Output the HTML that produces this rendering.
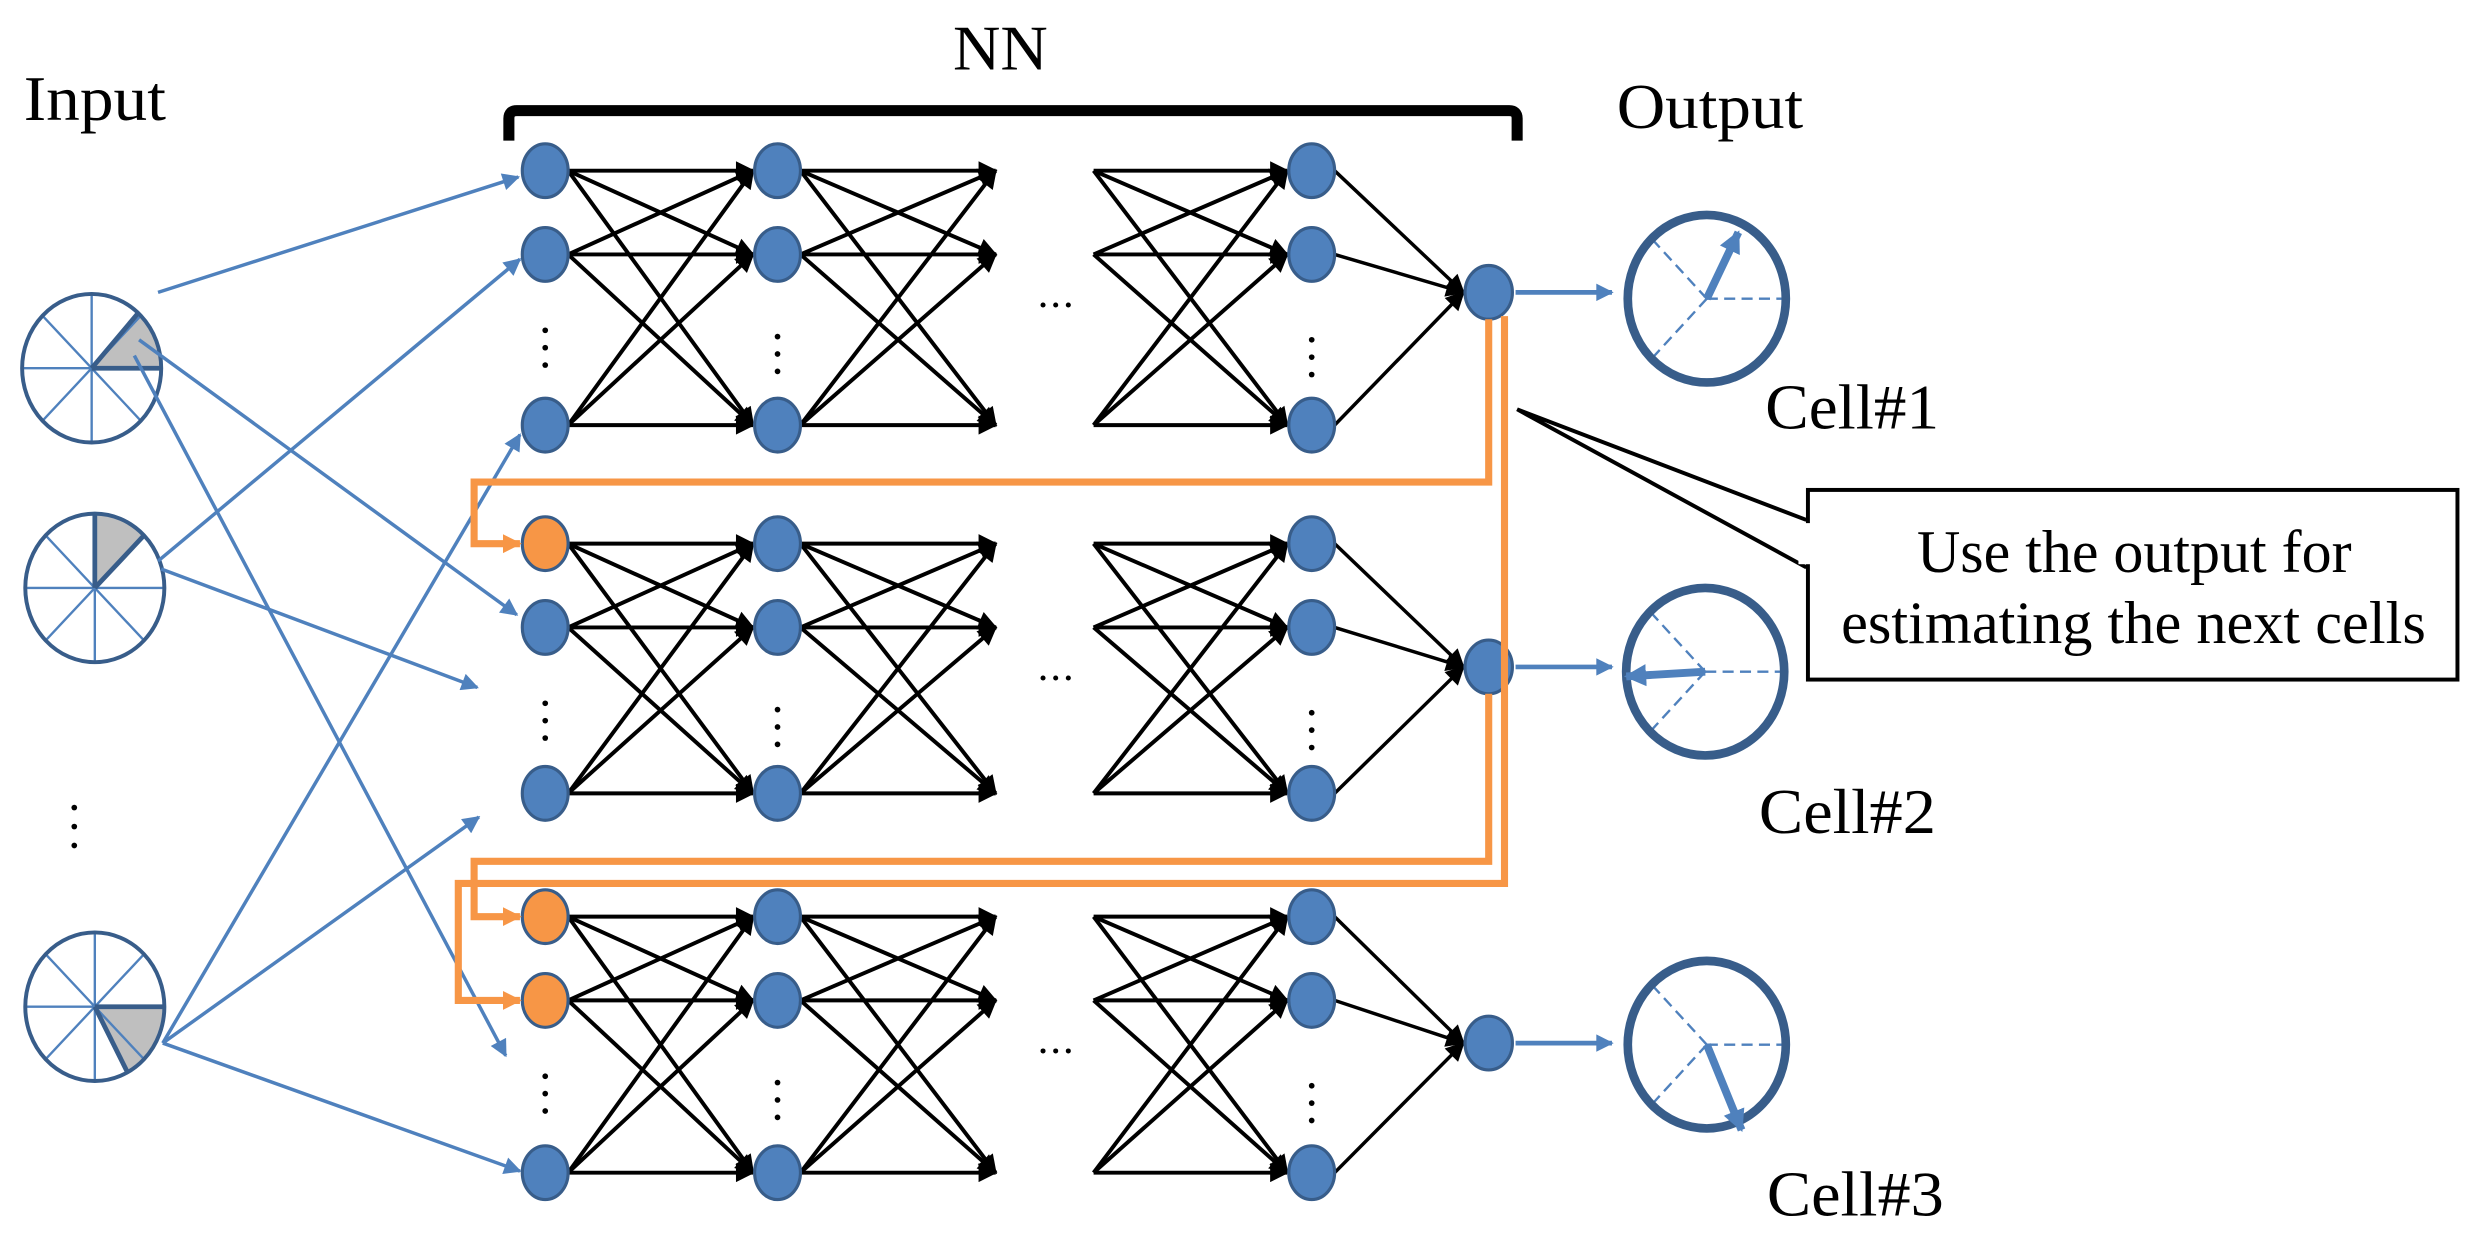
<!DOCTYPE html>
<html><head><meta charset="utf-8"><style>
html,body{margin:0;padding:0;background:#fff;}
svg{display:block;}
text{font-family:"Liberation Serif",serif;fill:#000;}
</style></head><body>
<svg id="s" width="2478" height="1249" viewBox="0 0 1568 790.3" preserveAspectRatio="none" xmlns="http://www.w3.org/2000/svg">
<defs>
<marker id="ab" viewBox="0 0 10 10" refX="9" refY="5" markerWidth="15" markerHeight="12" markerUnits="userSpaceOnUse" orient="auto"><path d="M0,0 L10,5 L0,10 z" fill="#000"/></marker>
<marker id="abl" viewBox="0 0 10 10" refX="9" refY="5" markerWidth="13" markerHeight="11" markerUnits="userSpaceOnUse" orient="auto"><path d="M0,0 L10,5 L0,10 z" fill="#4F81BD"/></marker>
<marker id="aor" viewBox="0 0 10 10" refX="9" refY="5" markerWidth="12" markerHeight="14" markerUnits="userSpaceOnUse" orient="auto"><path d="M0,0 L10,5 L0,10 z" fill="#F79646"/></marker>
<marker id="abig" viewBox="0 0 10 10" refX="9" refY="5" markerWidth="14" markerHeight="16" markerUnits="userSpaceOnUse" orient="auto"><path d="M0,0 L10,5 L0,10 z" fill="#4F81BD"/></marker>
</defs>
<rect width="1568" height="790.3" fill="#fff"/>
<text x="15" y="76" font-size="40" textLength="90" lengthAdjust="spacingAndGlyphs">Input</text>
<text x="603" y="44" font-size="40" textLength="60" lengthAdjust="spacingAndGlyphs">NN</text>
<text x="1023" y="81" font-size="40" textLength="118" lengthAdjust="spacingAndGlyphs">Output</text>
<path d="M322 89 V75 Q322 70 327 70 H955 Q960 70 960 75 V89" fill="none" stroke="#000" stroke-width="7"/>
<g id="net"></g>
<g id="front"></g>
<text x="1117" y="271" font-size="40" textLength="110" lengthAdjust="spacingAndGlyphs">Cell#1</text>
<text x="1113" y="527" font-size="40" textLength="112" lengthAdjust="spacingAndGlyphs">Cell#2</text>
<text x="1118" y="769" font-size="40" textLength="112" lengthAdjust="spacingAndGlyphs">Cell#3</text>
<path d="M1143 329 L960 259 L1143 359" fill="none" stroke="#000" stroke-width="2.5"/>
<rect x="1144" y="310" width="411" height="120" fill="#fff" stroke="#000" stroke-width="2.5"/>
<rect x="1138" y="331" width="8" height="26" fill="#fff"/>
<text x="1213" y="362" font-size="38" textLength="275" lengthAdjust="spacingAndGlyphs">Use the output for</text>
<text x="1165" y="407" font-size="38" textLength="370" lengthAdjust="spacingAndGlyphs">estimating the next cells</text>
</svg>
<script>
var NS="http://www.w3.org/2000/svg";
var g=document.getElementById('net'), f=document.getElementById('front');
function el(p,t,a){var e=document.createElementNS(NS,t);for(var k in a)e.setAttribute(k,a[k]);p.appendChild(e);return e;}
function line(p,x1,y1,x2,y2,st,w,m,extra){var a={x1:x1,y1:y1,x2:x2,y2:y2,stroke:st,'stroke-width':w};if(m)a['marker-end']='url(#'+m+')';for(var k in extra)a[k]=extra[k];return el(p,'line',a);}
var c1=345,c2=492,ce=630,c4s=692,c4=830,co=942,rx=14.5,ry=17;
var blocks=[{r:[108,161,269],o:185,orange:[]},{r:[344,397,502],o:422,orange:[0]},{r:[580,633,742],o:660,orange:[0,1]}];
blocks.forEach(function(b){
  var r=b.r;
  for(var i=0;i<3;i++)for(var j=0;j<3;j++){
    line(g,c1+rx,r[i],c2-rx-1,r[j],'#000',2.5,'ab');
    line(g,c2+rx,r[i],ce,r[j],'#000',2.5,'ab');
    line(g,c4s,r[i],c4-rx-1,r[j],'#000',2.5,'ab');
  }
  for(var i=0;i<3;i++) line(g,c4+rx,r[i],co-16,b.o,'#000',2.2,'ab');
  [c1,c2,c4].forEach(function(x,k){var y0=r[1]+48+(k==1?4:0)+(k==2?6:0);for(var d=0;d<3;d++)el(g,'circle',{cx:x,cy:y0+d*11,r:1.8,fill:'#000'});});
  for(var d=0;d<3;d++)el(g,'circle',{cx:660+d*8,cy:r[1]+32,r:1.6,fill:'#000'});
  [c1,c2,c4].forEach(function(x,k){for(var i=0;i<3;i++){var orr=(k==0&&b.orange.indexOf(i)>=0);el(f,'ellipse',{cx:x,cy:r[i],rx:rx,ry:ry,fill:orr?'#F79646':'#4F81BD',stroke:'#385D8A','stroke-width':2});}});
  el(f,'ellipse',{cx:co,cy:b.o,rx:15,ry:17,fill:'#4F81BD',stroke:'#385D8A','stroke-width':2});
  line(f,959,b.o,1020,b.o,'#4F81BD',3,'abl');
});
var O='#F79646';
function pl(pts){el(f,'polyline',{points:pts,fill:'none',stroke:O,'stroke-width':4.5,'marker-end':'url(#aor)'});}
pl('942,202 942,305 300,305 300,344 329,344');
pl('942,439 942,545 300,545 300,580 329,580');
pl('952,200 952,559 290,559 290,633 329,633');
var B='#4F81BD',D='#385D8A';
function inc(cx,cy,a0,a1){
  var Rx=44,Ry=47;
  function pt(a){return [cx+Rx*Math.cos(a*Math.PI/180),cy-Ry*Math.sin(a*Math.PI/180)];}
  var p0=pt(a0),p1=pt(a1);
  el(g,'path',{d:'M'+cx+','+cy+' L'+p0+' A'+Rx+','+Ry+' 0 0 '+(a1>a0?0:1)+' '+p1+' Z',fill:'#BFBFBF'});
  for(var a=0;a<360;a+=45){var p=pt(a);line(g,cx,cy,p[0],p[1],B,1.5);}
  line(g,cx,cy,p0[0],p0[1],D,3);line(g,cx,cy,p1[0],p1[1],D,3);
  el(g,'ellipse',{cx:cx,cy:cy,rx:Rx,ry:Ry,fill:'none',stroke:D,'stroke-width':2.5});
}
inc(58,233,0,48);
inc(60,372,45,90);
inc(60,637,-62,0);
for(var d=0;d<3;d++)el(g,'circle',{cx:47,cy:511+d*12,r:1.8,fill:'#000'});
[[100,185,328,112],[88,215,327,389],[85,225,320,668],[100,355,329,164],[102,360,302,435],[103,660,329,275],[103,660,303,517],[103,660,329,741]].forEach(function(l){line(g,l[0],l[1],l[2],l[3],B,2.2,'abl');});
function oc(cx,cy,tx,ty){
  [[cx+50,cy],[cx-34,cy-37],[cx-34,cy+37]].forEach(function(p){line(f,cx,cy,p[0],p[1],B,1.5,null,{'stroke-dasharray':'7,4'});});
  el(f,'ellipse',{cx:cx,cy:cy,rx:50,ry:53,fill:'none',stroke:D,'stroke-width':5.5});
  line(f,cx,cy,tx,ty,B,5,'abig');
}
oc(1080,189,1100,147);
oc(1079,425,1029,428);
oc(1080,661,1102,715);
</script>
</body></html>
